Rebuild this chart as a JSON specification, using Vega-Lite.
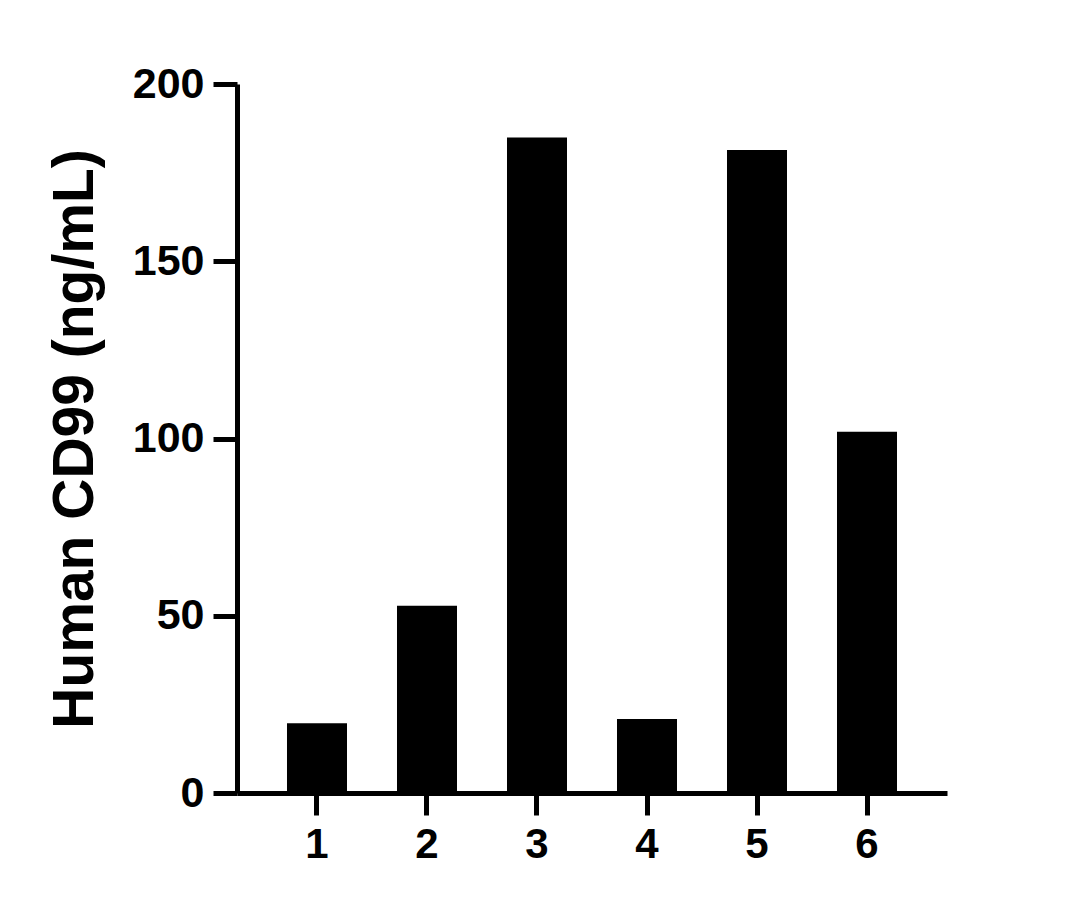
{
  "$schema": "https://vega.github.io/schema/vega-lite/v6.json",
  "width": 710,
  "height": 709,
  "autosize": {"type": "none"},
  "padding": {"left": 237, "top": 84, "right": 137, "bottom": 116},
  "background": "white",
  "config": {
    "view": {"stroke": null},
    "font": "Liberation Sans",
    "axis": {"grid": false, "domainColor": "black", "tickColor": "black", "labelColor": "black", "titleColor": "black", "labelFont": "Liberation Sans", "titleFont": "Liberation Sans", "labelFontWeight": "bold", "titleFontWeight": "bold"}
  },
  "data": {
    "values": [
      {"sample": "1", "value": 19.7},
      {"sample": "2", "value": 52.8},
      {"sample": "3", "value": 184.9},
      {"sample": "4", "value": 20.9},
      {"sample": "5", "value": 181.4},
      {"sample": "6", "value": 101.9}
    ]
  },
  "mark": {"type": "bar", "color": "black"},
  "encoding": {
    "x": {
      "field": "sample",
      "type": "nominal",
      "sort": null,
      "scale": {"paddingInner": 0.4545, "paddingOuter": 0.4545},
      "axis": {"title": null, "labelAngle": 0, "labelFontSize": 42, "labelPadding": 9, "tickSize": 22, "tickWidth": 5, "domainWidth": 5, "offset": 0}
    },
    "y": {
      "field": "value",
      "type": "quantitative",
      "scale": {"domain": [0, 200], "nice": false},
      "axis": {"title": "Human CD99 (ng/mL)", "values": [0, 50, 100, 150, 200], "labelFontSize": 43, "labelPadding": 9, "tickSize": 24, "tickWidth": 5, "domainWidth": 5, "titleFontSize": 57, "titlePadding": 28}
    }
  }
}
